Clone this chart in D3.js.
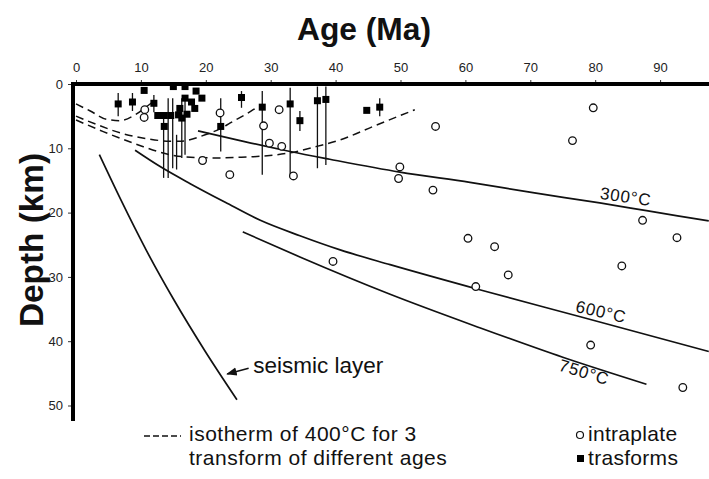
<!DOCTYPE html>
<html>
<head>
<meta charset="utf-8">
<script src="https://cdn.jsdelivr.net/npm/d3@7/dist/d3.min.js"></script>
<style>
  html, body { margin: 0; padding: 0; background: #fff; }
  svg { display: block; }
  text { font-family: "Liberation Sans", Arial, sans-serif; fill: #111; }
</style>
</head>
<body>
<svg id="chart" width="709" height="479"></svg>
<script>
// ---------------- DATA ----------------
const ageTicks = [0, 10, 20, 30, 40, 50, 60, 70, 80, 90];
const depthTicks = [0, 10, 20, 30, 40, 50];

// intraplate earthquakes (open circles)
const intraAge   = [79.7, 55.4, 76.5, 49.9, 49.7, 55.0, 60.4, 64.5, 66.6, 61.6, 87.3, 92.6, 84.1, 79.3, 93.5, 39.6, 33.5, 31.7, 29.8, 28.9, 31.3, 22.2, 23.7, 19.5, 10.6, 10.5];
const intraDepth = [3.7, 6.6, 8.8, 12.9, 14.7, 16.5, 24.0, 25.3, 29.7, 31.5, 21.2, 23.9, 28.3, 40.6, 47.2, 27.6, 14.3, 9.7, 9.2, 6.5, 4.0, 4.5, 14.1, 11.9, 4.0, 5.2];

// transform earthquakes (filled squares)
const transAge   = [6.5, 8.7, 10.5, 12.0, 12.6, 13.6, 14.6, 13.6, 15.0, 16.8, 18.5, 19.4, 16.8, 17.8, 16.0, 18.3, 16.3, 17.1, 15.8, 22.3, 25.5, 28.7, 33.0, 34.5, 37.2, 38.5, 44.8, 46.8];
const transDepth = [3.1, 2.8, 1.0, 3.0, 4.9, 4.9, 4.9, 6.6, 0.4, 0.4, 1.1, 2.2, 2.2, 2.8, 3.8, 3.8, 5.3, 4.7, 4.8, 6.6, 2.1, 3.6, 3.1, 5.7, 2.6, 2.4, 4.1, 3.6];

// depth ranges (vertical bars) of transform events
const barAge      = [6.5, 8.7, 12.0, 13.5, 14.2, 14.9, 15.5, 16.3, 16.8, 22.3, 25.5, 28.7, 33.0, 34.5, 37.2, 38.5, 46.8];
const barTopDepth = [1.4, 1.4, 1.7, 4.8, 2.2, 2.2, 7.9, 2.2, 2.2, 2.2, 1.1, 1.1, 0.6, 4.2, 0.4, 0.4, 2.2];
const barBotDepth = [5.0, 4.2, 4.4, 14.6, 14.6, 13.1, 13.3, 11.5, 11.0, 10.5, 3.7, 14.1, 14.1, 7.3, 13.1, 12.6, 5.0];

// isotherms (solid)
const iso300Age   = [18.8, 25.3, 33.0, 39.1, 49.9, 60.7, 70.4, 80.7, 87.9, 97.5];
const iso300Depth = [7.3, 8.8, 10.5, 11.7, 13.7, 15.3, 16.9, 18.5, 19.7, 21.3];
const iso600Age   = [9.1, 12.9, 17.6, 23.0, 28.4, 34.5, 40.7, 48.4, 62.2, 77.7, 97.5];
const iso600Depth = [10.3, 12.8, 15.5, 18.4, 21.2, 23.6, 25.8, 28.1, 32.0, 36.2, 41.6];
const iso750Age   = [25.7, 34.5, 48.4, 62.2, 75.0, 87.9];
const iso750Depth = [23.0, 26.9, 32.7, 37.9, 42.5, 46.7];
const seismicAge   = [3.6, 6.9, 10.8, 15.1, 19.8, 24.8];
const seismicDepth = [11.0, 18.0, 25.8, 33.6, 41.4, 49.1];

// 400°C isotherms for 3 transforms of different ages (dashed)
const dashAAge   = [0, 2.2, 4.7, 6.8, 9.1, 10.9, 12.2];
const dashADepth = [3.1, 4.2, 5.5, 5.7, 4.8, 3.5, 2.5];
const dashBAge   = [0, 3.2, 6.8, 10.9, 14.5, 16.0, 19.9, 22.5, 23.7, 27.3, 27.9];
const dashBDepth = [5.0, 6.3, 7.6, 8.5, 8.9, 8.9, 7.9, 6.8, 6.1, 4.0, 3.6];
const dashCAge   = [0, 4.2, 9.4, 14.5, 16.5, 21.7, 25.3, 28.9, 33.0, 37.1, 40.7, 45.8, 52.2];
const dashCDepth = [5.6, 7.4, 9.4, 11.0, 11.3, 11.5, 11.4, 11.2, 10.7, 9.7, 8.7, 6.6, 4.0];

// curve labels
const curveLabelText  = ["300°C", "600°C", "750°C"];
const curveLabelAge   = [84.7, 80.9, 78.3];
const curveLabelDepth = [17.5, 35.4, 44.8];
const curveLabelAngle = [8, 13, 17];

// legend texts
const legendLeft  = ["isotherm of 400°C for 3", "transform of different ages"];
const legendRight = ["intraplate", "trasforms"];

// ---------------- CHART ----------------
const svg = d3.select("#chart");
const x = d3.scaleLinear().domain([0, 90]).range([76, 660.1]);
const y = d3.scaleLinear().domain([0, 50]).range([84, 405.5]);
const axisX = 73;
const axisTopY = y(0);

// Titles
svg.append("text")
  .attr("x", 364).attr("y", 40)
  .attr("text-anchor", "middle")
  .style("font-size", "32px").style("font-weight", "bold")
  .attr("textLength", 134).attr("lengthAdjust", "spacingAndGlyphs")
  .text("Age (Ma)");

svg.append("text")
  .attr("transform", "translate(43,240) rotate(-90)")
  .attr("text-anchor", "middle")
  .style("font-size", "33px").style("font-weight", "bold")
  .attr("textLength", 174).attr("lengthAdjust", "spacingAndGlyphs")
  .text("Depth (km)");

// Top axis
const gTop = svg.append("g").attr("transform", `translate(0,${axisTopY})`)
  .call(d3.axisTop(x).tickValues(ageTicks).tickSize(4).tickPadding(8).tickFormat(d3.format("d")));
gTop.select(".domain").remove();
gTop.selectAll(".tick line").attr("stroke", "#333").attr("stroke-width", 1);
gTop.selectAll(".tick text").style("font-size", "13px").style("fill", "#222");

// Left axis
const gLeft = svg.append("g").attr("transform", `translate(${axisX},0)`)
  .call(d3.axisLeft(y).tickValues(depthTicks).tickSize(5).tickPadding(5).tickFormat(d3.format("d")));
gLeft.select(".domain").remove();
gLeft.selectAll(".tick line").attr("stroke", "#333").attr("stroke-width", 1);
gLeft.selectAll(".tick text").style("font-size", "13px").style("fill", "#222");

// thick axis lines
svg.append("line").attr("x1", axisX - 2).attr("x2", 709).attr("y1", axisTopY).attr("y2", axisTopY)
  .attr("stroke", "#000").attr("stroke-width", 4);
svg.append("line").attr("x1", axisX).attr("x2", axisX).attr("y1", axisTopY - 2).attr("y2", 421)
  .attr("stroke", "#000").attr("stroke-width", 4);

const line = d3.line().x(d => x(d[0])).y(d => y(d[1])).curve(d3.curveMonotoneX);
const zip = (a, b) => a.map((v, i) => [v, b[i]]);

// solid isotherms + seismic layer
[[iso300Age, iso300Depth], [iso600Age, iso600Depth], [iso750Age, iso750Depth], [seismicAge, seismicDepth]]
  .forEach(([a, d]) => {
    svg.append("path").attr("d", line(zip(a, d)))
      .attr("fill", "none").attr("stroke", "#111").attr("stroke-width", 1.7);
  });

// dashed isotherms
[[dashAAge, dashADepth], [dashBAge, dashBDepth], [dashCAge, dashCDepth]].forEach(([a, d]) => {
  svg.append("path").attr("d", line(zip(a, d)))
    .attr("fill", "none").attr("stroke", "#111").attr("stroke-width", 1.5)
    .attr("stroke-dasharray", "8,5");
});

// vertical depth-range bars
svg.append("g").selectAll("line").data(barAge.map((a, i) => [a, barTopDepth[i], barBotDepth[i]]))
  .join("line")
  .attr("x1", d => x(d[0])).attr("x2", d => x(d[0]))
  .attr("y1", d => y(d[1])).attr("y2", d => y(d[2]))
  .attr("stroke", "#111").attr("stroke-width", 1.3);

// intraplate circles
svg.append("g").selectAll("circle").data(zip(intraAge, intraDepth))
  .join("circle")
  .attr("cx", d => x(d[0])).attr("cy", d => y(d[1])).attr("r", 3.8)
  .attr("fill", "#fff").attr("stroke", "#111").attr("stroke-width", 1.3);

// transform squares
const sq = 7;
svg.append("g").selectAll("rect").data(zip(transAge, transDepth))
  .join("rect")
  .attr("x", d => x(d[0]) - sq / 2).attr("y", d => y(d[1]) - sq / 2)
  .attr("width", sq).attr("height", sq).attr("fill", "#000");

// curve labels
curveLabelText.forEach((t, i) => {
  svg.append("text")
    .attr("transform", `translate(${x(curveLabelAge[i])},${y(curveLabelDepth[i])}) rotate(${curveLabelAngle[i]})`)
    .attr("text-anchor", "middle").attr("dy", "0.35em")
    .style("font-size", "17px").style("letter-spacing", "0.8px")
    .text(t);
});

// seismic layer label + arrow
svg.append("text").attr("x", x(27.3)).attr("y", y(44.9))
  .style("font-size", "22.5px").text("seismic layer");
svg.append("defs").append("marker").attr("id", "ah").attr("viewBox", "0 0 10 10")
  .attr("refX", 9).attr("refY", 5).attr("markerWidth", 7).attr("markerHeight", 7).attr("orient", "auto")
  .append("path").attr("d", "M0,1 L10,5 L0,9 Z").attr("fill", "#111");
svg.append("line").attr("x1", x(26.6)).attr("y1", y(44.2)).attr("x2", x(23.3)).attr("y2", y(45.1))
  .attr("stroke", "#111").attr("stroke-width", 1.5).attr("marker-end", "url(#ah)");

// legend
const lg = svg.append("g");
const rowY = [441, 465];
lg.append("line").attr("x1", 144).attr("x2", 181).attr("y1", 436).attr("y2", 436)
  .attr("stroke", "#111").attr("stroke-width", 1.4).attr("stroke-dasharray", "6,3");
legendLeft.forEach((t, i) => {
  lg.append("text").attr("x", 189).attr("y", rowY[i])
    .style("font-size", "21px").style("letter-spacing", "0.5px").text(t);
});
legendRight.forEach((t, i) => {
  lg.append("text").attr("x", 588).attr("y", rowY[i])
    .style("font-size", "21px").style("letter-spacing", "0.3px").text(t);
});
lg.append("circle").attr("cx", 580).attr("cy", 435).attr("r", 3.5).attr("fill", "#fff").attr("stroke", "#111").attr("stroke-width", 1.2);
lg.append("rect").attr("x", 577).attr("y", 455).attr("width", 7).attr("height", 7).attr("fill", "#000");
</script>
</body>
</html>
